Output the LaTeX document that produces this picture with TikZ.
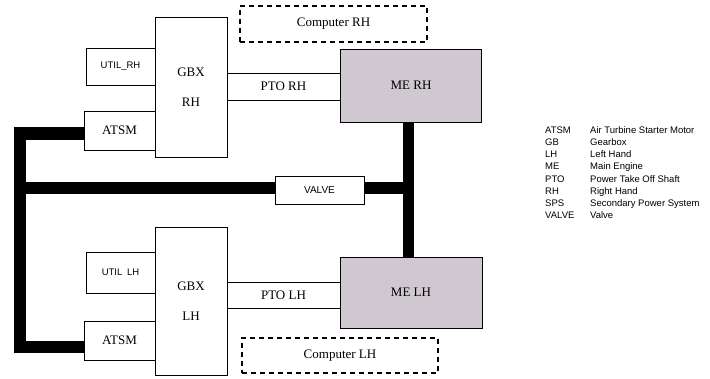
\documentclass[tikz,border=0pt]{standalone}
\usepackage{fontspec}
\setmainfont{Liberation Serif}
\setsansfont{Liberation Sans}
\usepackage{xcolor}
\usetikzlibrary{calc}

\definecolor{engine}{RGB}{207,200,208}

\tikzset{
    unit/.style={draw, line width=0.8pt, inner sep=0pt, font=\fontsize{13}{30}\selectfont},
    aux/.style={draw, line width=0.8pt, inner sep=0pt, font=\sffamily\fontsize{9.5}{11}\selectfont},
    engine/.style={unit, fill=engine},
    computer/.style={draw, line width=1.4pt, dash pattern=on 5pt off 4pt, inner sep=0pt, font=\fontsize{13}{15}\selectfont},
    shaft/.style={line width=12.5pt, line join=miter},
}

\begin{document}
\begin{tikzpicture}[x=1pt,y=-1pt]

    \useasboundingbox (0,0) rectangle (710,379);

    % Правая сторона (RH)
    \node[unit, minimum width=72pt, minimum height=140pt, align=center] (gbxR) at (191,87) {GBX\\RH};
    \node[aux, minimum width=69pt, minimum height=37pt] (utilR) at (120.5,66.5) {UTIL\_RH};
    \node[unit, minimum width=71pt, minimum height=39pt] (atsmR) at (119.5,130.5) {ATSM};
    \node[engine, minimum width=141pt, minimum height=73pt] (meR) at (411,85.5) {ME RH};
    \node[unit, minimum width=113pt, minimum height=27pt] (ptoR) at (283.5,86.5) {PTO RH};
    \node[computer, minimum width=187pt, minimum height=36pt] (compR) at (333.5,24) {Computer RH};

    % Левая сторона (LH)
    \node[unit, minimum width=72pt, minimum height=148pt, align=center] (gbxL) at (191,301) {GBX\\LH};
    \node[aux, minimum width=69pt, minimum height=41pt] (utilL) at (120.5,272.5) {UTIL\enspace LH};
    \node[unit, minimum width=71pt, minimum height=39pt] (atsmL) at (119.5,340.5) {ATSM};
    \node[engine, minimum width=142pt, minimum height=71pt] (meL) at (411,292.5) {ME LH};
    \node[unit, minimum width=113pt, minimum height=26pt] (ptoL) at (283.5,295) {PTO LH};
    \node[computer, minimum width=196pt, minimum height=35pt] (compL) at (340,355.5) {Computer LH};

    % Клапан
    \node[aux, minimum width=89pt, minimum height=28pt, font=\sffamily\fontsize{10}{12}\selectfont] (valve) at (319.5,190) {VALVE};

    % Точки излома толстой линии
    \coordinate (sR) at (84,133.5);
    \coordinate (sL) at (84,347);
    \coordinate (kR) at (20,133.5);
    \coordinate (kL) at (20,347);
    \coordinate (kV) at (20,188);
    \coordinate (tV) at (408.5,188);

    % Толстые линии
    \draw[shaft] (sR) -- (kR) -- (kL) -- (sL);
    \draw[shaft] (kV) -- (valve.west |- kV);
    \draw[shaft] (valve.east |- tV) -- (tV);
    \draw[shaft, line width=11pt] (meR.south -| tV) -- (meL.north -| tV);

    % Легенда
    \node[anchor=north west, inner sep=0pt, font=\sffamily\fontsize{9.5}{12.2}\selectfont] (legend) at (545,124.5) {%
        \begin{tabular}{@{}p{45pt}@{}l@{}}
            ATSM & Air Turbine Starter Motor\\
            GB & Gearbox\\
            LH & Left Hand\\
            ME & Main Engine\\
            PTO & Power Take Off Shaft\\
            RH & Right Hand\\
            SPS & Secondary Power System\\
            VALVE & Valve
        \end{tabular}};

\end{tikzpicture}
\end{document}
